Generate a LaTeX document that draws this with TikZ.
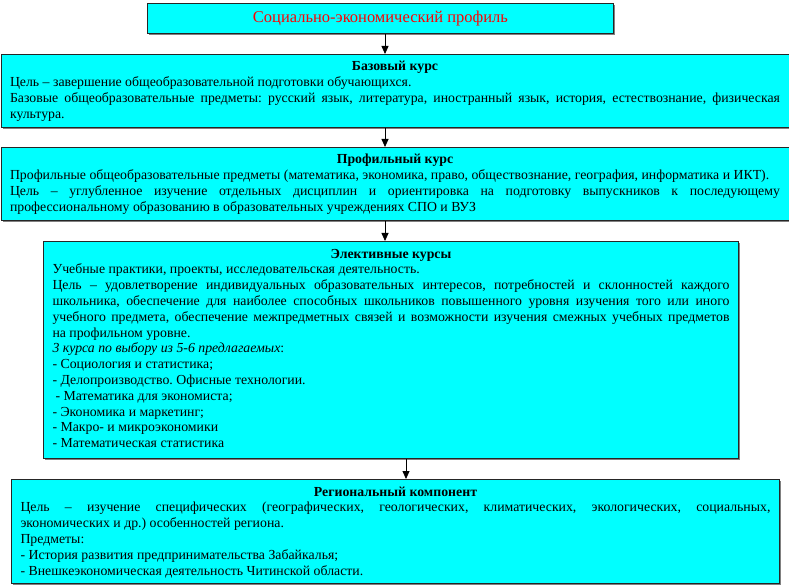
\documentclass[tikz,border=0pt]{standalone}
\usepackage{fontspec}
\setmainfont{Liberation Serif}
\usetikzlibrary{arrows.meta,shadows}
\definecolor{boxcyan}{RGB}{0,255,255}
\frenchspacing
\newcommand\jline[1]{\makebox[\linewidth][s]{#1}\par}
\newcommand\pline[1]{\mbox{#1}\par}
\newcommand\boxhead[1]{\makebox[\linewidth]{\rule{0pt}{10pt}\bfseries #1}\par}
\begin{document}
\begin{tikzpicture}[x=1pt,y=-1pt,
  box/.style={draw=black!85, line width=1pt, fill=boxcyan,
    drop shadow={shadow xshift=1.5pt, shadow yshift=-1.5pt, fill=black!50, opacity=1},
    anchor=north west, inner xsep=9pt, inner ysep=0pt,
    font=\fontsize{13.8}{15.8}\selectfont\frenchspacing},
  arr/.style={-{Triangle[width=7pt,length=8pt]}, line width=0.8pt, draw=black}]
\useasboundingbox (0,0) rectangle (789,585);

\node[box, inner sep=0pt, minimum width=466pt, minimum height=30pt, text=red,
  font=\fontsize{16.5}{18}\selectfont] (b1) at (147,3) {Социально-экономический профиль};

\node[box] (b2) at (0.5,54) {\parbox[c][73pt][t]{770pt}{\vspace*{6.5pt}%
\boxhead{Базовый курс}
\pline{Цель – завершение общеобразовательной подготовки обучающихся.}
\jline{Базовые общеобразовательные предметы: русский язык, литература, иностранный язык, история, естествознание, физическая}
\pline{культура.}}};

\node[box] (b3) at (0.5,147) {\parbox[c][73pt][t]{770pt}{\vspace*{6.5pt}%
\boxhead{Профильный курс}
\pline{Профильные общеобразовательные предметы (математика, экономика, право, обществознание, география, информатика и ИКТ).}
\jline{Цель – углубленное изучение отдельных дисциплин и ориентировка на подготовку выпускников к последующему}
\pline{профессиональному образованию в образовательных учреждениях СПО и ВУЗ}}};

\node[box] (b4) at (43,241) {\parbox[c][217pt][t]{677pt}{\vspace*{6.5pt}%
\boxhead{Элективные курсы}
\pline{Учебные практики, проекты, исследовательская деятельность.}
\jline{Цель – удовлетворение индивидуальных образовательных интересов, потребностей и склонностей каждого}
\jline{школьника, обеспечение для наиболее способных школьников повышенного уровня изучения того или иного}
\jline{учебного предмета, обеспечение межпредметных связей и возможности изучения смежных учебных предметов}
\pline{на профильном уровне.}
\pline{\textit{3 курса по выбору из 5-6 предлагаемых}:}
\pline{- Социология и статистика;}
\pline{- Делопроизводство. Офисные технологии.}
\pline{\hspace{3pt}- Математика для экономиста;}
\pline{- Экономика и маркетинг;}
\pline{- Макро- и микроэкономики}
\pline{- Математическая статистика}}};

\node[box] (b5) at (11,479) {\parbox[c][104pt][t]{750pt}{\vspace*{6.5pt}%
\boxhead{Региональный компонент}
\jline{Цель – изучение специфических (географических, геологических, климатических, экологических, социальных,}
\pline{экономических и др.) особенностей региона.}
\pline{Предметы:}
\pline{- История развития предпринимательства Забайкалья;}
\pline{- Внешкеэкономическая деятельность Читинской области.}}};

\coordinate (c1) at (385,0);
\coordinate (c4) at (406,0);
\draw[arr] (b1.south -| c1) -- (b2.north -| c1);
\draw[arr] (b2.south -| c1) -- (b3.north -| c1);
\draw[arr] (b3.south -| c1) -- (b4.north -| c1);
\draw[arr] (b4.south -| c4) -- (b5.north -| c4);
\end{tikzpicture}
\end{document}
